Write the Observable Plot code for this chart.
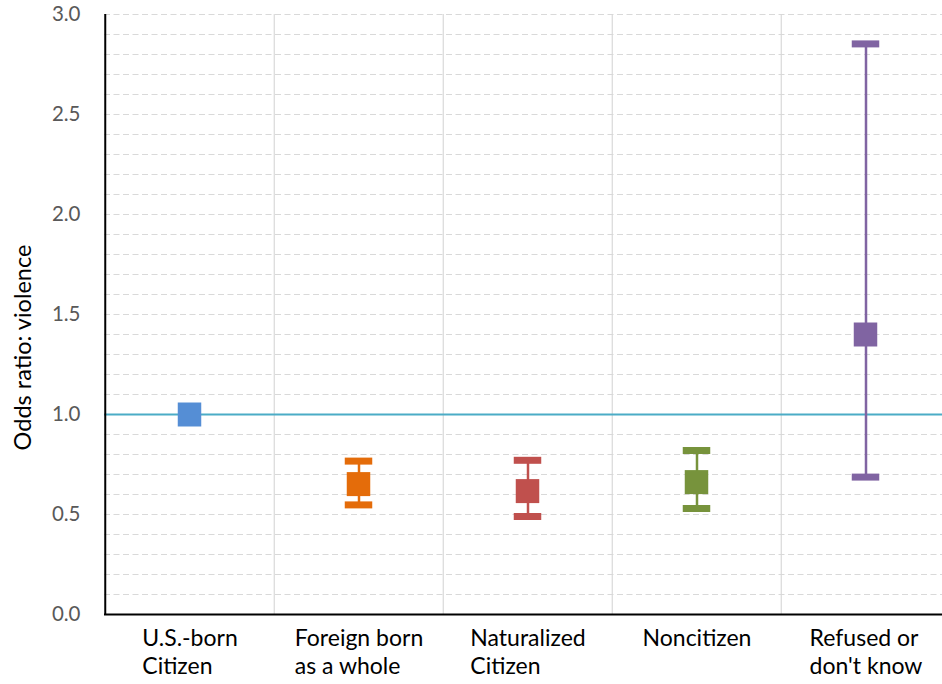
<!DOCTYPE html>
<html><head><meta charset="utf-8">
<script src="https://cdn.jsdelivr.net/npm/d3@7"></script>
<script src="https://cdn.jsdelivr.net/npm/@observablehq/plot@0.6"></script>
<style>body{margin:0;background:#fff;overflow:hidden}</style>
</head><body><div id="chart"></div>
<script>
const categories = ["U.S.-born Citizen", "Foreign born as a whole", "Naturalized Citizen", "Noncitizen", "Refused or don't know"];
const labelLines = [["U.S.-born", "Citizen"], ["Foreign born", "as a whole"], ["Naturalized", "Citizen"], ["Noncitizen"], ["Refused or", "don't know"]];
const oddsRatio = [1.00, 0.652, 0.617, 0.662, 1.40];
const ciLower = [null, 0.548, 0.490, 0.530, 0.687];
const ciUpper = [null, 0.767, 0.771, 0.820, 2.853];
const colors = ["#558ED5", "#E46C0A", "#C0504D", "#77933C", "#8064A2"];
const yTicks = [0, 0.5, 1.0, 1.5, 2.0, 2.5, 3.0];
const gridTicks = [0.1,0.2,0.3,0.4,0.5,0.6,0.7,0.8,0.9,1.0,1.1,1.2,1.3,1.4,1.5,1.6,1.7,1.8,1.9,2.0,2.1,2.2,2.3,2.4,2.5,2.6,2.7,2.8,2.9,3.0];
const refValue = 1.0;
const yTitle = "Odds ratio: violence";

const data = categories.map((c, i) => ({cat: c, or: oddsRatio[i], lo: ciLower[i], hi: ciUpper[i], color: colors[i]}));
const withCI = data.filter(d => d.lo != null);

const W = 942, H = 684, mL = 104, mT = 14, mB = 70;
const xRange = [104, 951.5];
const bw = (xRange[1] - xRange[0]) / categories.length;
const FONT = "Lato, 'Open Sans', sans-serif";
const labelSize = 23;

const ctx = document.createElement("canvas").getContext("2d");
ctx.font = `${labelSize}px Lato`;
const labelMarks = categories.map((c, i) => {
  const w = d3.max(labelLines[i], s => ctx.measureText(s).width);
  return Plot.text([c], {
    x: d => d, frameAnchor: "bottom", text: () => labelLines[i].join("\n"),
    textAnchor: "start", lineAnchor: "top", lineHeight: 1.23, dy: 11, dx: -w / 2,
    fontSize: labelSize, fill: "#000"
  });
});

const chart = Plot.plot({
  width: W, height: H, marginLeft: mL, marginRight: 0, marginTop: mT, marginBottom: mB,
  style: {fontFamily: FONT, background: "#fff"},
  x: {domain: categories, range: xRange, padding: 0, axis: null},
  y: {domain: [0, 3], axis: null},
  color: {type: "identity"},
  marks: [
    Plot.gridY(gridTicks, {stroke: "#D9D9D9", strokeOpacity: 1, strokeWidth: 1, strokeDasharray: "6,3.5"}),
    Plot.ruleX(categories.slice(1), {x: d => d, dx: -bw / 2, stroke: "#D9D9D9", strokeWidth: 1.2}),
    Plot.ruleY([refValue], {stroke: "#4BACC6", strokeWidth: 2}),
    Plot.ruleX(withCI, {x: "cat", y1: "lo", y2: "hi", stroke: "color", strokeWidth: 2.5}),
    Plot.tickY(withCI, {x: "cat", y: "lo", stroke: "color", strokeWidth: 7, insetLeft: (bw - 28) / 2, insetRight: (bw - 28) / 2}),
    Plot.tickY(withCI, {x: "cat", y: "hi", stroke: "color", strokeWidth: 7, insetLeft: (bw - 28) / 2, insetRight: (bw - 28) / 2}),
    Plot.tickY(data, {x: "cat", y: "or", stroke: "color", strokeWidth: 24, insetLeft: (bw - 24) / 2, insetRight: (bw - 24) / 2}),
    Plot.ruleX([categories[0]], {x: d => d, dx: -bw / 2, stroke: "#000", strokeWidth: 2}),
    Plot.ruleY([0], {stroke: "#000", strokeWidth: 2}),
    Plot.axisY(yTicks, {tickSize: 0, tickPadding: 24, tickFormat: d3.format(".1f"), fontSize: 20.5, fill: "#595959", label: null}),
    Plot.text([yTitle], {frameAnchor: "left", textAnchor: "middle", text: d => d, rotate: -90, dx: -81, dy: 33, fontSize: 23.5, fill: "#000"}),
    ...labelMarks
  ]
});
document.getElementById("chart").appendChild(chart);
</script>
</body></html>
